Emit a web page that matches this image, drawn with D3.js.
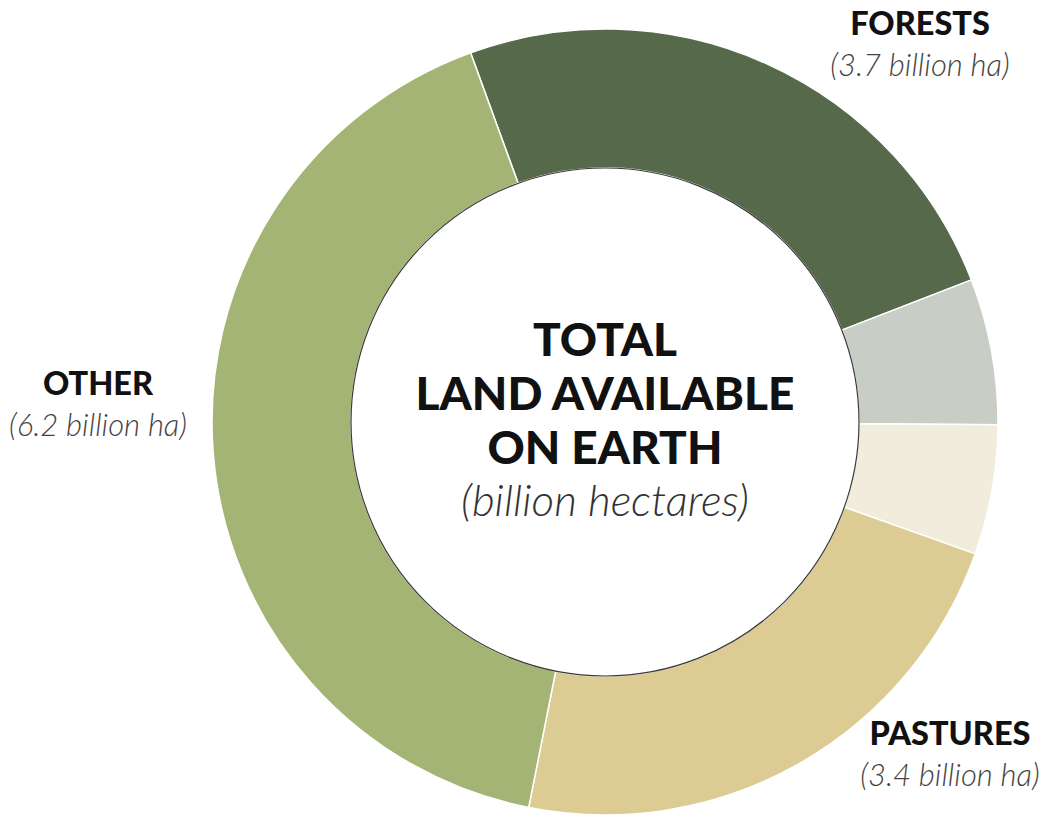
<!DOCTYPE html>
<html>
<head>
<meta charset="utf-8">
<script src="https://cdn.jsdelivr.net/npm/d3@7"></script>
<style>
  html, body { margin: 0; padding: 0; background: #fff; }
  svg { display: block; }
</style>
</head>
<body>
<svg id="chart" width="1051" height="822"></svg>
<script>
// Land use categories (billion hectares)
const categories = ["Forests", "Cropland (rainfed)", "Cropland (irrigated)", "Pastures", "Other"];
const values = [3.7, 0.9, 0.8, 3.4, 6.2];
const colors = ["#56694a", "#c8cdc5", "#f1ecdc", "#dccc94", "#a4b474"];

// Labelled slices: title and sub-caption
const labelTitles = ["FORESTS", "PASTURES", "OTHER"];
const labelValues = [3.7, 3.4, 6.2];

const centerLines = ["TOTAL", "LAND AVAILABLE", "ON EARTH"];
const centerSub = "(billion hectares)";

const svg = d3.select("#chart");
const cx = 605, cy = 422;
const outerR = 393, innerR = 254;

const data = categories.map((c, i) => ({ name: c, value: values[i], color: colors[i] }));

const startDeg = -20;
const pie = d3.pie()
  .value(d => d.value)
  .sort(null)
  .startAngle(startDeg * Math.PI / 180)
  .endAngle((startDeg + 360) * Math.PI / 180);

const arc = d3.arc().innerRadius(innerR).outerRadius(outerR);

const g = svg.append("g").attr("transform", `translate(${cx},${cy})`);

g.selectAll("path.slice")
  .data(pie(data))
  .join("path")
  .attr("class", "slice")
  .attr("d", arc)
  .attr("fill", d => d.data.color)
  .attr("stroke", "#ffffff")
  .attr("stroke-width", 1.5);

// inner hole outline
g.append("circle")
  .attr("r", innerR)
  .attr("fill", "#ffffff")
  .attr("stroke", "#3a3a3a")
  .attr("stroke-width", 1.2);

// centre caption
const center = g.append("g").attr("text-anchor", "middle");
center.selectAll("text.line")
  .data(centerLines)
  .join("text")
  .attr("class", "line")
  .attr("x", 0)
  .attr("y", (d, i) => -66 + i * 54)
  .attr("font-family", "Lato, sans-serif")
  .attr("font-weight", 900)
  .attr("font-size", 46)
  .attr("fill", "#111")
  .text(d => d);
center.append("text")
  .attr("x", 0)
  .attr("y", 94)
  .attr("font-family", "Lato, sans-serif")
  .attr("font-weight", 300)
  .attr("font-style", "italic")
  .attr("font-size", 44)
  .attr("fill", "#333")
  .text(centerSub);

// outside labels
const labelPos = [
  { x: 920, y: 35 },
  { x: 950, y: 745 },
  { x: 98, y: 395 }
];
labelTitles.forEach((t, i) => {
  const lg = svg.append("g").attr("text-anchor", "middle");
  lg.append("text")
    .attr("x", labelPos[i].x)
    .attr("y", labelPos[i].y)
    .attr("font-family", "Lato, sans-serif")
    .attr("font-weight", 900)
    .attr("font-size", 32.5)
    .attr("fill", "#111")
    .text(t);
  lg.append("text")
    .attr("x", labelPos[i].x)
    .attr("y", labelPos[i].y + 41)
    .attr("font-family", "Lato, sans-serif")
    .attr("font-weight", 300)
    .attr("font-style", "italic")
    .attr("font-size", 31)
    .attr("fill", "#444")
    .text(`(${d3.format(".1f")(labelValues[i])} billion ha)`);
});
</script>
</body>
</html>
